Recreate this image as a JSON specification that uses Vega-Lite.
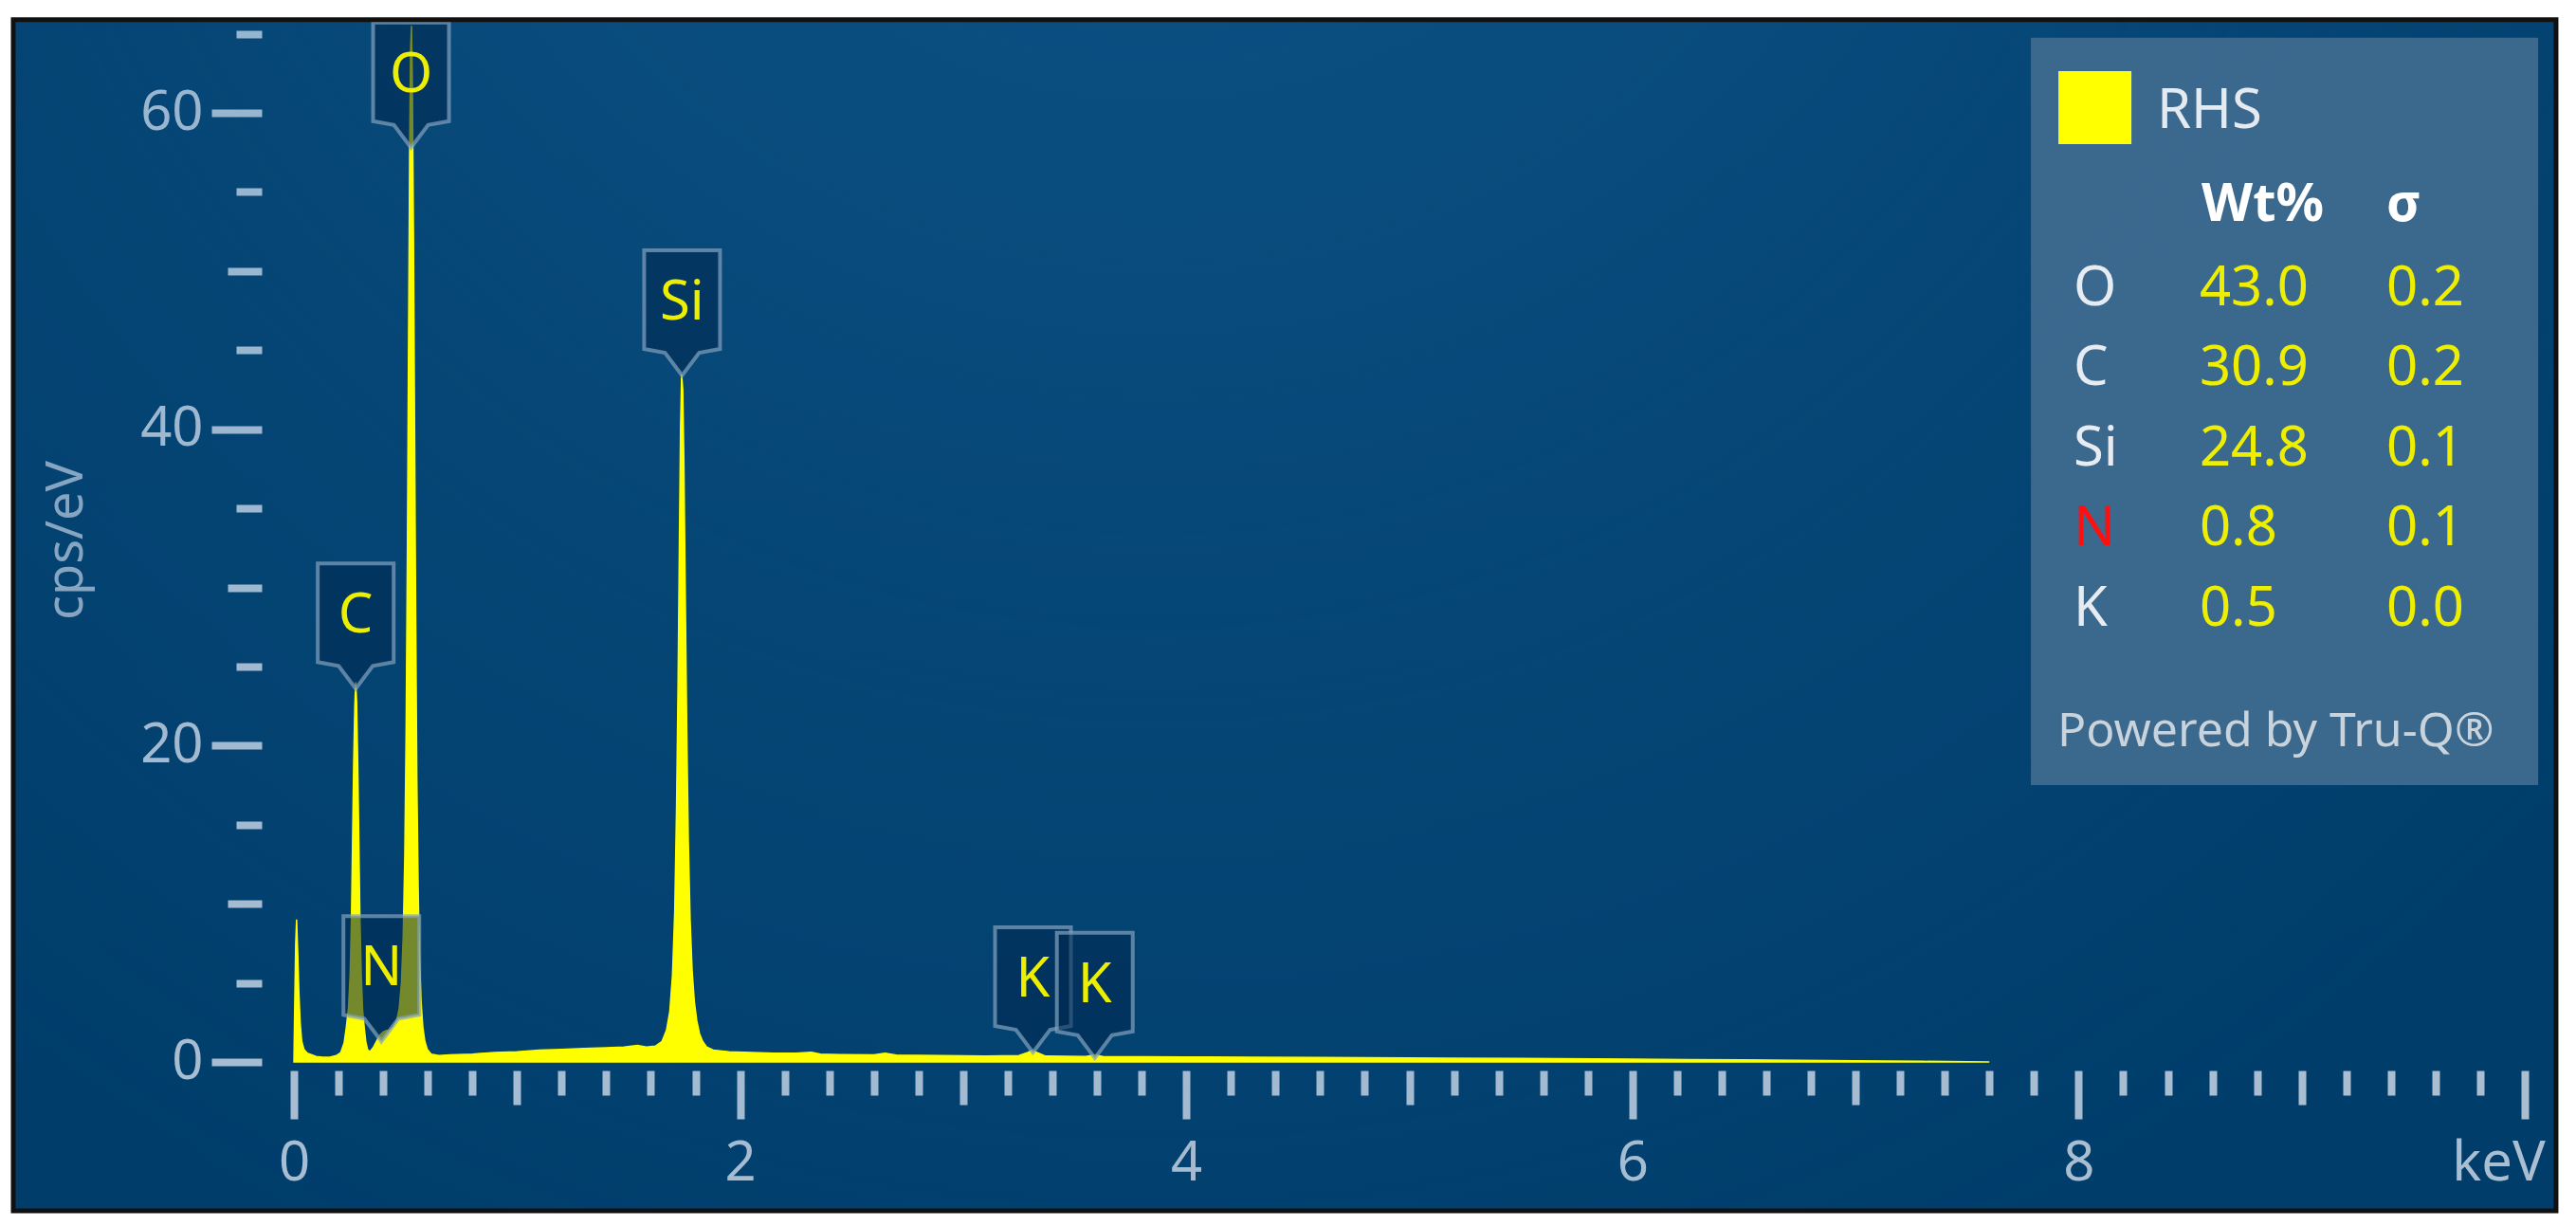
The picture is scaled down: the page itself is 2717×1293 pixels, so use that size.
{
  "$schema": "https://vega.github.io/schema/vega-lite/v6.json",
  "width": 2353,
  "height": 1101,
  "autosize": {"type": "none"},
  "padding": {"left": 310, "top": 19, "right": 54, "bottom": 173},
  "background": "#003d6b",
  "config": {"view": {"stroke": null}, "font": "Noto Sans", "text": {"font": "Noto Sans"}},
  "data": {"values": [{}]},
  "datasets": {
    "spectrum": [
      {"keV": 0.000, "cps": 0.0}, {"keV": 0.003, "cps": 3.0}, {"keV": 0.008, "cps": 7.5}, {"keV": 0.012, "cps": 9.0},
      {"keV": 0.017, "cps": 7.0}, {"keV": 0.022, "cps": 4.5}, {"keV": 0.028, "cps": 2.5}, {"keV": 0.035, "cps": 1.3},
      {"keV": 0.045, "cps": 0.8}, {"keV": 0.060, "cps": 0.55}, {"keV": 0.080, "cps": 0.45}, {"keV": 0.100, "cps": 0.35},
      {"keV": 0.130, "cps": 0.30}, {"keV": 0.160, "cps": 0.30}, {"keV": 0.190, "cps": 0.40}, {"keV": 0.210, "cps": 0.60},
      {"keV": 0.225, "cps": 1.2}, {"keV": 0.235, "cps": 2.2}, {"keV": 0.245, "cps": 3.5}, {"keV": 0.252, "cps": 5.5},
      {"keV": 0.258, "cps": 9.0}, {"keV": 0.263, "cps": 14.0}, {"keV": 0.268, "cps": 19.0}, {"keV": 0.273, "cps": 22.5},
      {"keV": 0.277, "cps": 24.0}, {"keV": 0.281, "cps": 22.8}, {"keV": 0.286, "cps": 19.0}, {"keV": 0.291, "cps": 14.0},
      {"keV": 0.296, "cps": 9.0}, {"keV": 0.302, "cps": 5.5}, {"keV": 0.308, "cps": 3.3}, {"keV": 0.315, "cps": 2.2},
      {"keV": 0.322, "cps": 1.3}, {"keV": 0.330, "cps": 0.8}, {"keV": 0.340, "cps": 0.65}, {"keV": 0.355, "cps": 0.9},
      {"keV": 0.370, "cps": 1.3}, {"keV": 0.385, "cps": 1.7}, {"keV": 0.400, "cps": 1.9}, {"keV": 0.415, "cps": 2.0},
      {"keV": 0.430, "cps": 2.0}, {"keV": 0.445, "cps": 2.2}, {"keV": 0.460, "cps": 2.6}, {"keV": 0.472, "cps": 3.4},
      {"keV": 0.482, "cps": 5.0}, {"keV": 0.490, "cps": 8.0}, {"keV": 0.497, "cps": 13.0}, {"keV": 0.503, "cps": 21.0},
      {"keV": 0.509, "cps": 33.0}, {"keV": 0.514, "cps": 46.0}, {"keV": 0.519, "cps": 58.0}, {"keV": 0.523, "cps": 64.0},
      {"keV": 0.527, "cps": 65.5}, {"keV": 0.531, "cps": 62.0}, {"keV": 0.536, "cps": 52.0}, {"keV": 0.541, "cps": 40.0},
      {"keV": 0.546, "cps": 28.0}, {"keV": 0.551, "cps": 18.0}, {"keV": 0.557, "cps": 11.0}, {"keV": 0.563, "cps": 6.5},
      {"keV": 0.570, "cps": 3.8}, {"keV": 0.578, "cps": 2.2}, {"keV": 0.587, "cps": 1.3}, {"keV": 0.598, "cps": 0.8},
      {"keV": 0.615, "cps": 0.5}, {"keV": 0.650, "cps": 0.4}, {"keV": 0.700, "cps": 0.45}, {"keV": 0.800, "cps": 0.5},
      {"keV": 0.900, "cps": 0.6}, {"keV": 1.000, "cps": 0.65}, {"keV": 1.100, "cps": 0.75}, {"keV": 1.200, "cps": 0.8},
      {"keV": 1.300, "cps": 0.85}, {"keV": 1.400, "cps": 0.9}, {"keV": 1.480, "cps": 0.95}, {"keV": 1.540, "cps": 1.05},
      {"keV": 1.580, "cps": 0.95}, {"keV": 1.620, "cps": 1.0}, {"keV": 1.650, "cps": 1.3}, {"keV": 1.670, "cps": 2.0},
      {"keV": 1.685, "cps": 3.2}, {"keV": 1.697, "cps": 5.5}, {"keV": 1.707, "cps": 9.5}, {"keV": 1.715, "cps": 16.0},
      {"keV": 1.722, "cps": 24.0}, {"keV": 1.728, "cps": 33.0}, {"keV": 1.733, "cps": 40.0}, {"keV": 1.738, "cps": 43.5},
      {"keV": 1.743, "cps": 42.5}, {"keV": 1.748, "cps": 38.0}, {"keV": 1.754, "cps": 30.0}, {"keV": 1.761, "cps": 21.0},
      {"keV": 1.768, "cps": 14.0}, {"keV": 1.776, "cps": 9.0}, {"keV": 1.785, "cps": 5.8}, {"keV": 1.795, "cps": 3.8},
      {"keV": 1.806, "cps": 2.6}, {"keV": 1.818, "cps": 1.8}, {"keV": 1.832, "cps": 1.3}, {"keV": 1.850, "cps": 0.95},
      {"keV": 1.880, "cps": 0.75}, {"keV": 1.950, "cps": 0.65}, {"keV": 2.050, "cps": 0.6}, {"keV": 2.150, "cps": 0.55},
      {"keV": 2.250, "cps": 0.55}, {"keV": 2.320, "cps": 0.62}, {"keV": 2.360, "cps": 0.5}, {"keV": 2.450, "cps": 0.47},
      {"keV": 2.600, "cps": 0.45}, {"keV": 2.650, "cps": 0.55}, {"keV": 2.700, "cps": 0.43}, {"keV": 2.900, "cps": 0.4},
      {"keV": 3.100, "cps": 0.38}, {"keV": 3.250, "cps": 0.4}, {"keV": 3.290, "cps": 0.6}, {"keV": 3.310, "cps": 0.75},
      {"keV": 3.330, "cps": 0.6}, {"keV": 3.370, "cps": 0.37}, {"keV": 3.550, "cps": 0.35}, {"keV": 3.590, "cps": 0.45},
      {"keV": 3.630, "cps": 0.33}, {"keV": 3.800, "cps": 0.33}, {"keV": 4.000, "cps": 0.32}, {"keV": 4.300, "cps": 0.3},
      {"keV": 4.600, "cps": 0.28}, {"keV": 5.000, "cps": 0.26}, {"keV": 5.500, "cps": 0.22}, {"keV": 6.000, "cps": 0.18},
      {"keV": 6.500, "cps": 0.13}, {"keV": 7.000, "cps": 0.08}, {"keV": 7.300, "cps": 0.04}, {"keV": 7.600, "cps": 0.0}
    ],
    "peaks": [
      {"el": "O", "keV": 0.525, "cps": 57.8},
      {"el": "C", "keV": 0.277, "cps": 23.6},
      {"el": "N", "keV": 0.392, "cps": 1.3},
      {"el": "Si", "keV": 1.740, "cps": 43.4},
      {"el": "K", "keV": 3.313, "cps": 0.6},
      {"el": "K", "keV": 3.590, "cps": 0.25}
    ],
    "quant": [
      {"el": "O", "wt": "43.0", "sd": "0.2"},
      {"el": "C", "wt": "30.9", "sd": "0.2"},
      {"el": "Si", "wt": "24.8", "sd": "0.1"},
      {"el": "N", "wt": "0.8", "sd": "0.1"},
      {"el": "K", "wt": "0.5", "sd": "0.0"}
    ]
  },
  "layer": [
    {
      "mark": {
        "type": "rect",
        "fill": {"gradient": "radial", "x1": 0.45, "y1": 0.08, "r1": 0, "x2": 0.45, "y2": 0.08, "r2": 0.75,
          "stops": [{"offset": 0, "color": "rgba(40,130,190,0.36)"}, {"offset": 0.5, "color": "rgba(40,130,190,0.16)"}, {"offset": 1, "color": "rgba(40,130,190,0)"}]}
      },
      "encoding": {
        "x": {"datum": -1.258, "type": "quantitative", "scale": {"domain": [0, 10], "nice": false, "zero": false}},
        "x2": {"datum": 10.14},
        "y": {"datum": 65.89, "type": "quantitative", "scale": {"domain": [0, 66], "nice": false, "zero": false}},
        "y2": {"datum": -9.41}
      }
    },
    {
      "data": {"name": "spectrum"},
      "mark": {"type": "area", "color": "#ffff00", "stroke": "#ffff00", "strokeWidth": 1.5, "interpolate": "linear"},
      "encoding": {
        "x": {
          "field": "keV", "type": "quantitative",
          "scale": {"domain": [0, 10], "nice": false, "zero": false},
          "axis": {
            "orient": "bottom",
            "title": null,
            "values": [0,0.2,0.4,0.6,0.8,1,1.2,1.4,1.6,1.8,2,2.2,2.4,2.6,2.8,3,3.2,3.4,3.6,3.8,4,4.2,4.4,4.6,4.8,5,5.2,5.4,5.6,5.8,6,6.2,6.4,6.6,6.8,7,7.2,7.4,7.6,7.8,8,8.2,8.4,8.6,8.8,9,9.2,9.4,9.6,9.8,10],
            "domain": false, "grid": false, "offset": 9,
            "tickColor": "#aabed2", "tickWidth": 8,
            "tickSize": {"condition": [
              {"test": "abs(datum.value/2-round(datum.value/2))<0.01", "value": 51},
              {"test": "abs(datum.value-round(datum.value))<0.01", "value": 36}], "value": 26},
            "labelExpr": "abs(datum.value/2-round(datum.value/2))<0.01 ? (datum.value>9.9 ? 'keV' : ''+round(datum.value)) : ''",
            "labelFontSize": 58, "labelColor": "#aabed2", "labelPadding": 18,
            "labelFlush": false, "labelOverlap": false, "labelBound": false,
            "labelOffset": {"condition": {"test": "datum.value>9.9", "value": -28}, "value": 0}
          }
        },
        "y": {
          "field": "cps", "type": "quantitative",
          "scale": {"domain": [0, 66], "nice": false, "zero": false},
          "axis": {
            "orient": "left",
            "title": "cps/eV",
            "values": [0,5,10,15,20,25,30,35,40,45,50,55,60,65],
            "domain": false, "grid": false, "offset": 34,
            "tickColor": "#aabed2", "tickWidth": 8,
            "tickSize": {"condition": [
              {"test": "datum.value % 20 === 0", "value": 53},
              {"test": "datum.value % 10 === 0", "value": 36}], "value": 27},
            "labelExpr": "datum.value % 20 === 0 ? ''+datum.value : ''",
            "labelFontSize": 58, "labelColor": "#aabed2", "labelPadding": 9,
            "labelOverlap": false, "labelBound": false,
            "titleFontSize": 54, "titleFontWeight": "normal", "titleColor": "#8ea8c2", "titlePadding": 50
          }
        },
        "y2": {"datum": 0}
      }
    },
    {
      "data": {"name": "peaks"},
      "mark": {
        "type": "point",
        "shape": "M0,0 L-0.45,-0.6 L-1,-0.7 L-1,-3.3 L1,-3.3 L1,-0.7 L0.45,-0.6 Z",
        "size": 6400, "filled": true,
        "fill": "#00284e", "fillOpacity": 0.55,
        "stroke": "#83a2bf", "strokeOpacity": 0.7, "strokeWidth": 4
      },
      "encoding": {
        "x": {"field": "keV", "type": "quantitative"},
        "y": {"field": "cps", "type": "quantitative"}
      }
    },
    {
      "data": {"name": "peaks"},
      "mark": {"type": "text", "dy": -76, "fontSize": 58, "color": "#eeee00", "align": "center", "baseline": "middle"},
      "encoding": {
        "x": {"field": "keV", "type": "quantitative"},
        "y": {"field": "cps", "type": "quantitative"},
        "text": {"field": "el"}
      }
    },
    {
      "mark": {"type": "rect", "fill": "#3d6a8f", "opacity": 0.96},
      "encoding": {
        "x": {"datum": 7.786, "type": "quantitative"},
        "x2": {"datum": 10.06},
        "y": {"datum": 64.75, "type": "quantitative"},
        "y2": {"datum": 17.5}
      }
    },
    {
      "mark": {"type": "point", "shape": "square", "size": 5929, "filled": true, "color": "#ffff00", "opacity": 1},
      "encoding": {
        "x": {"datum": 8.073, "type": "quantitative"},
        "y": {"datum": 60.34, "type": "quantitative"}
      }
    },
    {
      "mark": {"type": "text", "text": "RHS", "align": "left", "baseline": "alphabetic", "fontSize": 58, "color": "#e4eaf0"},
      "encoding": {
        "x": {"datum": 8.351, "type": "quantitative"},
        "y": {"datum": 59.05, "type": "quantitative"}
      }
    },
    {
      "mark": {"type": "text", "text": "Wt%", "align": "left", "baseline": "alphabetic", "fontSize": 56, "fontWeight": "bold", "color": "#ffffff"},
      "encoding": {
        "x": {"datum": 8.551, "type": "quantitative"},
        "y": {"datum": 53.18, "type": "quantitative"}
      }
    },
    {
      "mark": {"type": "text", "text": "σ", "align": "left", "baseline": "alphabetic", "fontSize": 56, "fontWeight": "bold", "color": "#ffffff"},
      "encoding": {
        "x": {"datum": 9.380, "type": "quantitative"},
        "y": {"datum": 53.18, "type": "quantitative"}
      }
    },
    {
      "data": {"name": "quant"},
      "mark": {"type": "text", "align": "left", "baseline": "alphabetic", "fontSize": 58},
      "encoding": {
        "x": {"datum": 7.977, "type": "quantitative"},
        "y": {"datum": 47.84, "type": "quantitative"},
        "yOffset": {"field": "el", "type": "nominal", "scale": {"type": "point", "domain": ["O", "C", "Si", "N", "K"], "range": [0, 338], "padding": 0}},
        "text": {"field": "el"},
        "color": {"condition": {"test": "datum.el === 'N'", "value": "#ff1010"}, "value": "#e6ecf2"}
      }
    },
    {
      "data": {"name": "quant"},
      "mark": {"type": "text", "align": "left", "baseline": "alphabetic", "fontSize": 58, "color": "#eeee00"},
      "encoding": {
        "x": {"datum": 8.542, "type": "quantitative"},
        "y": {"datum": 47.84, "type": "quantitative"},
        "yOffset": {"field": "el", "type": "nominal", "scale": {"type": "point", "domain": ["O", "C", "Si", "N", "K"], "range": [0, 338], "padding": 0}},
        "text": {"field": "wt"}
      }
    },
    {
      "data": {"name": "quant"},
      "mark": {"type": "text", "align": "left", "baseline": "alphabetic", "fontSize": 58, "color": "#eeee00"},
      "encoding": {
        "x": {"datum": 9.380, "type": "quantitative"},
        "y": {"datum": 47.84, "type": "quantitative"},
        "yOffset": {"field": "el", "type": "nominal", "scale": {"type": "point", "domain": ["O", "C", "Si", "N", "K"], "range": [0, 338], "padding": 0}},
        "text": {"field": "sd"}
      }
    },
    {
      "mark": {"type": "text", "text": "Powered by Tru-Q®", "align": "left", "baseline": "alphabetic", "fontSize": 50, "color": "#c9d3dc"},
      "encoding": {
        "x": {"datum": 7.905, "type": "quantitative"},
        "y": {"datum": 19.96, "type": "quantitative"}
      }
    },
    {
      "mark": {"type": "rect", "fill": "#ffffff"},
      "encoding": {
        "x": {"datum": -1.6, "type": "quantitative"},
        "x2": {"datum": -1.258},
        "y": {"datum": 70, "type": "quantitative"},
        "y2": {"datum": -12}
      }
    },
    {
      "mark": {"type": "rect", "fill": "#ffffff"},
      "encoding": {
        "x": {"datum": 10.14, "type": "quantitative"},
        "x2": {"datum": 10.5},
        "y": {"datum": 70, "type": "quantitative"},
        "y2": {"datum": -12}
      }
    },
    {
      "mark": {"type": "rect", "fill": "#ffffff"},
      "encoding": {
        "x": {"datum": -1.6, "type": "quantitative"},
        "x2": {"datum": 10.5},
        "y": {"datum": 70, "type": "quantitative"},
        "y2": {"datum": 65.89}
      }
    },
    {
      "mark": {"type": "rect", "fill": "#ffffff"},
      "encoding": {
        "x": {"datum": -1.6, "type": "quantitative"},
        "x2": {"datum": 10.5},
        "y": {"datum": -9.41, "type": "quantitative"},
        "y2": {"datum": -12}
      }
    },
    {
      "mark": {"type": "rect", "filled": false, "fill": null, "stroke": "#111111", "strokeWidth": 5},
      "encoding": {
        "x": {"datum": -1.258, "type": "quantitative"},
        "x2": {"datum": 10.14},
        "y": {"datum": 65.89, "type": "quantitative"},
        "y2": {"datum": -9.41}
      }
    }
  ]
}
